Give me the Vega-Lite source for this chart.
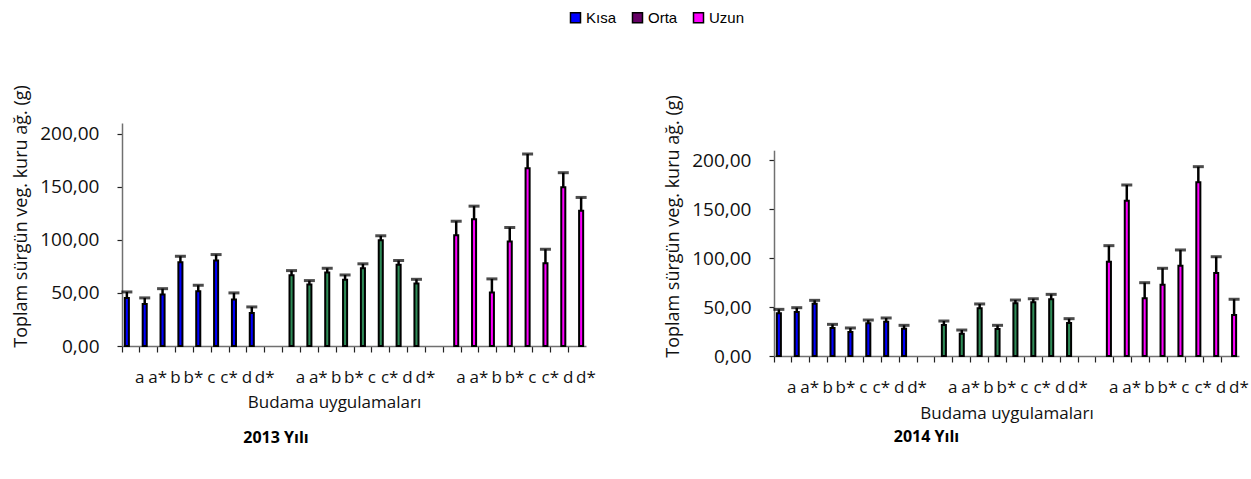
{
  "$schema": "https://vega.github.io/schema/vega-lite/v6.json",
  "padding": {"left": 12, "top": 10, "right": 5, "bottom": 5},
  "background": "white",
  "config": {
    "font": "Open Sans",
    "view": {"stroke": null},
    "axis": {"grid": false, "domainColor": "#707070", "domainWidth": 1.5, "tickColor": "#222222", "tickWidth": 1.2, "labelColor": "#111111", "titleColor": "#111111", "titleFontWeight": "normal"}
  },
  "data": {
    "values": [
      {"yil": "2013", "seri": "Kısa", "kat": "a_1", "deger": 45.3, "ust": 50.9},
      {"yil": "2013", "seri": "Kısa", "kat": "a*_1", "deger": 39.6, "ust": 45.3},
      {"yil": "2013", "seri": "Kısa", "kat": "b_1", "deger": 48.4, "ust": 54.0},
      {"yil": "2013", "seri": "Kısa", "kat": "b*_1", "deger": 78.9, "ust": 84.5},
      {"yil": "2013", "seri": "Kısa", "kat": "c_1", "deger": 51.5, "ust": 57.2},
      {"yil": "2013", "seri": "Kısa", "kat": "c*_1", "deger": 80.5, "ust": 86.1},
      {"yil": "2013", "seri": "Kısa", "kat": "d_1", "deger": 43.7, "ust": 50.0},
      {"yil": "2013", "seri": "Kısa", "kat": "d*_1", "deger": 31.1, "ust": 36.8},
      {"yil": "2013", "seri": "Orta", "kat": "a_2", "deger": 66.6, "ust": 71.0},
      {"yil": "2013", "seri": "Orta", "kat": "a*_2", "deger": 57.8, "ust": 61.6},
      {"yil": "2013", "seri": "Orta", "kat": "b_2", "deger": 69.2, "ust": 73.2},
      {"yil": "2013", "seri": "Orta", "kat": "b*_2", "deger": 62.5, "ust": 66.9},
      {"yil": "2013", "seri": "Orta", "kat": "c_2", "deger": 73.2, "ust": 77.4},
      {"yil": "2013", "seri": "Orta", "kat": "c*_2", "deger": 99.6, "ust": 103.8},
      {"yil": "2013", "seri": "Orta", "kat": "d_2", "deger": 76.4, "ust": 80.5},
      {"yil": "2013", "seri": "Orta", "kat": "d*_2", "deger": 58.8, "ust": 62.8},
      {"yil": "2013", "seri": "Uzun", "kat": "a_3", "deger": 104.3, "ust": 117.5},
      {"yil": "2013", "seri": "Uzun", "kat": "a*_3", "deger": 119.4, "ust": 131.7},
      {"yil": "2013", "seri": "Uzun", "kat": "b_3", "deger": 50.3, "ust": 63.2},
      {"yil": "2013", "seri": "Uzun", "kat": "b*_3", "deger": 98.4, "ust": 111.6},
      {"yil": "2013", "seri": "Uzun", "kat": "c_3", "deger": 167.3, "ust": 180.8},
      {"yil": "2013", "seri": "Uzun", "kat": "c*_3", "deger": 77.9, "ust": 91.1},
      {"yil": "2013", "seri": "Uzun", "kat": "d_3", "deger": 149.6, "ust": 163.2},
      {"yil": "2013", "seri": "Uzun", "kat": "d*_3", "deger": 127.4, "ust": 139.9},
      {"yil": "2014", "seri": "Kısa", "kat": "a_1", "deger": 43.5, "ust": 47.6},
      {"yil": "2014", "seri": "Kısa", "kat": "a*_1", "deger": 44.9, "ust": 49.3},
      {"yil": "2014", "seri": "Kısa", "kat": "b_1", "deger": 53.4, "ust": 56.8},
      {"yil": "2014", "seri": "Kısa", "kat": "b*_1", "deger": 28.6, "ust": 32.3},
      {"yil": "2014", "seri": "Kısa", "kat": "c_1", "deger": 24.5, "ust": 28.6},
      {"yil": "2014", "seri": "Kısa", "kat": "c*_1", "deger": 33.3, "ust": 36.7},
      {"yil": "2014", "seri": "Kısa", "kat": "d_1", "deger": 35.0, "ust": 38.8},
      {"yil": "2014", "seri": "Kısa", "kat": "d*_1", "deger": 27.9, "ust": 31.3},
      {"yil": "2014", "seri": "Orta", "kat": "a_2", "deger": 31.6, "ust": 35.7},
      {"yil": "2014", "seri": "Orta", "kat": "a*_2", "deger": 22.8, "ust": 26.5},
      {"yil": "2014", "seri": "Orta", "kat": "b_2", "deger": 48.7, "ust": 53.1},
      {"yil": "2014", "seri": "Orta", "kat": "b*_2", "deger": 27.6, "ust": 31.3},
      {"yil": "2014", "seri": "Orta", "kat": "c_2", "deger": 53.7, "ust": 57.1},
      {"yil": "2014", "seri": "Orta", "kat": "c*_2", "deger": 54.8, "ust": 58.5},
      {"yil": "2014", "seri": "Orta", "kat": "d_2", "deger": 57.8, "ust": 62.9},
      {"yil": "2014", "seri": "Orta", "kat": "d*_2", "deger": 33.7, "ust": 38.1},
      {"yil": "2014", "seri": "Uzun", "kat": "a_3", "deger": 96.2, "ust": 112.6},
      {"yil": "2014", "seri": "Uzun", "kat": "a*_3", "deger": 158.5, "ust": 174.5},
      {"yil": "2014", "seri": "Uzun", "kat": "b_3", "deger": 58.9, "ust": 74.8},
      {"yil": "2014", "seri": "Uzun", "kat": "b*_3", "deger": 72.8, "ust": 89.5},
      {"yil": "2014", "seri": "Uzun", "kat": "c_3", "deger": 92.1, "ust": 108.2},
      {"yil": "2014", "seri": "Uzun", "kat": "c*_3", "deger": 177.2, "ust": 193.2},
      {"yil": "2014", "seri": "Uzun", "kat": "d_3", "deger": 84.7, "ust": 101.3},
      {"yil": "2014", "seri": "Uzun", "kat": "d*_3", "deger": 41.8, "ust": 57.9}
    ]
  },
  "hconcat": [
    {
      "width": 464,
      "height": 223,
      "title": {"text": "2013 Yılı", "orient": "bottom", "anchor": "middle", "fontSize": 16, "fontWeight": "bold", "color": "#000000", "dx": -78, "offset": 20},
      "transform": [{"filter": "datum.yil === '2013'"}],
      "encoding": {
        "x": {
          "field": "kat", "type": "nominal",
          "scale": {"domain": ["a_1", "a*_1", "b_1", "b*_1", "c_1", "c*_1", "d_1", "d*_1", "_g1", "a_2", "a*_2", "b_2", "b*_2", "c_2", "c*_2", "d_2", "d*_2", "_g2", "a_3", "a*_3", "b_3", "b*_3", "c_3", "c*_3", "d_3", "d*_3"], "paddingInner": 0, "paddingOuter": 0},
          "axis": {"title": "Budama uygulamaları", "titleFontSize": 17, "titlePadding": 9, "titleX": 212, "labelAngle": 0, "labelFontSize": 17, "labelPadding": 17, "labelOverlap": false, "bandPosition": 0, "labelOffset": 8.9, "tickSize": 6, "labelExpr": "substring(datum.value, 0, indexof(datum.value, '_'))"}
        },
        "xOffset": {"field": "seri", "type": "nominal", "scale": {"domain": ["Kısa", "Orta", "Uzun"], "paddingInner": 0, "paddingOuter": 0.7}}
      },
      "layer": [
        {
          "mark": {"type": "bar", "stroke": "#000000", "strokeWidth": 2},
          "encoding": {
            "y": {"field": "deger", "type": "quantitative", "scale": {"domain": [0, 210], "nice": false},
              "axis": {"values": [0, 50, 100, 150, 200], "labelExpr": "replace(format(datum.value, '.2f'), '.', ',')", "labelFontSize": 19, "labelPadding": 18, "tickSize": 5, "title": "Toplam sürgün veg. kuru ağ. (g)", "titleFontSize": 18, "titlePadding": 9, "titleY": 93}},
            "fill": {
              "condition": {"test": "datum.seri === 'Orta'", "value": "#2e8b57"},
              "field": "seri", "type": "nominal",
              "scale": {"domain": ["Kısa", "Orta", "Uzun"], "range": ["#0000ff", "#660066", "#ff00ff"]},
              "legend": {"title": null, "orient": "none", "direction": "horizontal", "legendX": 446, "legendY": -113, "symbolType": "square", "symbolSize": 100, "symbolStrokeColor": "#000000", "symbolStrokeWidth": 1.5, "labelFont": "Liberation Sans", "labelFontSize": 15, "labelColor": "#000000", "labelOffset": 3, "columnPadding": 12}
            }
          }
        },
        {
          "mark": {"type": "rule", "color": "#000000", "strokeWidth": 2.5},
          "encoding": {"y": {"field": "deger", "type": "quantitative"}, "y2": {"field": "ust"}}
        },
        {
          "mark": {"type": "tick", "color": "#000000", "thickness": 3, "size": 11},
          "encoding": {"y": {"field": "ust", "type": "quantitative"}}
        }
      ]
    },
    {
      "width": 465,
      "height": 233,
      "title": {"text": "2014 Yılı", "orient": "bottom", "anchor": "middle", "fontSize": 16, "fontWeight": "bold", "color": "#000000", "dx": -80, "offset": 8},
      "transform": [{"filter": "datum.yil === '2014'"}],
      "encoding": {
        "x": {
          "field": "kat", "type": "nominal",
          "scale": {"domain": ["a_1", "a*_1", "b_1", "b*_1", "c_1", "c*_1", "d_1", "d*_1", "_g1", "a_2", "a*_2", "b_2", "b*_2", "c_2", "c*_2", "d_2", "d*_2", "_g2", "a_3", "a*_3", "b_3", "b*_3", "c_3", "c*_3", "d_3", "d*_3"], "paddingInner": 0, "paddingOuter": 0},
          "axis": {"title": "Budama uygulamaları", "titleFontSize": 17, "titlePadding": 10, "labelAngle": 0, "labelFontSize": 17, "labelPadding": 17, "labelOverlap": false, "bandPosition": 0, "labelOffset": 8.9, "tickSize": 6, "labelExpr": "substring(datum.value, 0, indexof(datum.value, '_'))"}
        },
        "xOffset": {"field": "seri", "type": "nominal", "scale": {"domain": ["Kısa", "Orta", "Uzun"], "paddingInner": 0, "paddingOuter": 0.7}}
      },
      "layer": [
        {
          "mark": {"type": "bar", "stroke": "#000000", "strokeWidth": 2},
          "encoding": {
            "y": {"field": "deger", "type": "quantitative", "scale": {"domain": [0, 210], "nice": false, "range": [233, 27.2]},
              "axis": {"values": [0, 50, 100, 150, 200], "labelExpr": "replace(format(datum.value, '.2f'), '.', ',')", "labelFontSize": 19, "labelPadding": 18, "tickSize": 5, "title": "Toplam sürgün veg. kuru ağ. (g)", "titleFontSize": 18, "titlePadding": 9, "titleY": 103}},
            "fill": {
              "condition": {"test": "datum.seri === 'Orta'", "value": "#2e8b57"},
              "field": "seri", "type": "nominal"
            }
          }
        },
        {
          "mark": {"type": "rule", "color": "#000000", "strokeWidth": 2.5},
          "encoding": {"y": {"field": "deger", "type": "quantitative"}, "y2": {"field": "ust"}}
        },
        {
          "mark": {"type": "tick", "color": "#000000", "thickness": 3, "size": 11},
          "encoding": {"y": {"field": "ust", "type": "quantitative"}}
        }
      ]
    }
  ],
  "spacing": 68
}
